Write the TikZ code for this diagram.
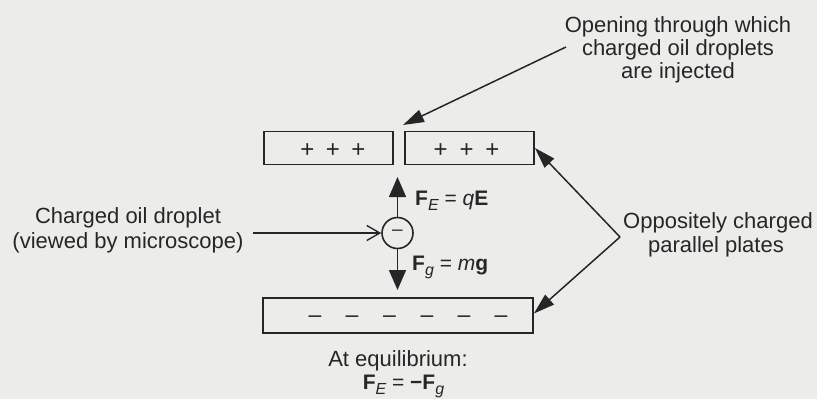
\documentclass[tikz,border=0pt]{standalone}
\usepackage{fontspec}
\setmainfont{Liberation Sans}
\usetikzlibrary{arrows.meta}
\definecolor{paper}{HTML}{ECECEA}
\definecolor{ink}{HTML}{262626}
\newcommand{\lowsub}[1]{\raisebox{-0.26em}{\fontsize{16}{16}\selectfont\itshape #1}}
\tikzset{
  lbl/.style={font=\fontsize{22}{24}\selectfont, text=ink, inner sep=0pt, anchor=base},
  eqlbl/.style={font=\fontsize{21}{23}\selectfont, text=ink, inner sep=0pt, anchor=base west},
  plate/.style={draw=ink, line width=1.8pt, rectangle, inner sep=0pt},
  plus/.style={font=\fontsize{24}{24}\selectfont, text=ink, inner sep=0pt, anchor=base},
  minus/.style={font=\fontsize{23}{23}\selectfont, text=ink, inner sep=0pt, anchor=base},
  pointer/.style={draw=ink, line width=1.5pt, -{Triangle[length=21pt,width=13pt]}},
  force/.style={draw=ink, line width=1.6pt, -{Triangle[length=20pt,width=17pt]}},
  viewline/.style={draw=ink, line width=1.4pt, -{Straight Barb[length=13pt,width=15pt,line width=1.4pt]}},
}
\begin{document}
\begin{tikzpicture}[x=1pt,y=-1pt]
\useasboundingbox[fill=paper] (0,0) rectangle (817,399);

% plates
\node[plate, minimum width=129pt, minimum height=33pt] (pl1) at (328.5,148) {};
\node[plate, minimum width=129pt, minimum height=33pt] (pl2) at (469.5,148) {};
\node[plate, minimum width=270pt, minimum height=35pt] (pl3) at (398,315.5) {};

% charges on plates
\foreach \x [count=\i] in {307.3,333,358.3} {
  \node[plus] (pa\i) at (\x,157) {+};
}
\foreach \x [count=\i] in {440.7,466.7,492.3} {
  \node[plus] (pb\i) at (\x,157) {+};
}
\foreach \x [count=\i] in {315,352,389.5,427,464,501} {
  \node[minus] (mn\i) at (\x,322.5) {\textendash};
}

% droplet
\node[draw=ink, circle, line width=1.6pt, minimum size=31pt, inner sep=0pt,
      font=\fontsize{19}{19}\selectfont, text=ink] (drop) at (397.5,233) {\textendash};
\coordinate (upTip) at (397.5,177);
\coordinate (downTip) at (397.5,290);
\draw[force] (drop.north) -- (upTip);
\draw[force] (drop.south) -- (downTip);

\node[eqlbl] (fe) at (415,205) {\textbf{F}\lowsub{E} = \textit{q}\textbf{E}};
\node[eqlbl] (fg) at (412,270) {\textbf{F}\lowsub{g} = \textit{m}\textbf{g}};

% left label
\node[lbl] (drp1) at (128,223) {Charged oil droplet};
\node[lbl] (drp2) at (128,248) {(viewed by microscope)};
\coordinate (viewStart) at (253,233);
\draw[viewline] (viewStart) -- (drop.west);

% top label
\node[lbl] (inj1) at (678,32) {Opening through which};
\node[lbl] (inj2) at (678,55) {charged oil droplets};
\node[lbl] (inj3) at (678,78) {are injected};
\coordinate (injStart) at (566,47);
\coordinate (gap) at (403,125);
\draw[pointer] (injStart) -- (gap);

% right label
\node[lbl] (opp1) at (718,228) {Oppositely charged};
\node[lbl] (opp2) at (716,252) {parallel plates};
\coordinate (vtx) at (620,237);
\draw[pointer] (vtx) -- (pl2.east);
\draw[pointer] (vtx) -- ([yshift=2pt]pl3.east);

% bottom label
\node[lbl] (eq1) at (398,366) {At equilibrium:};
\node[lbl, font=\fontsize{21}{22}\selectfont] (eq2) at (403.5,389)
  {\textbf{F}\lowsub{E} = \textbf{\textminus F}\lowsub{g}};
\end{tikzpicture}
\end{document}
